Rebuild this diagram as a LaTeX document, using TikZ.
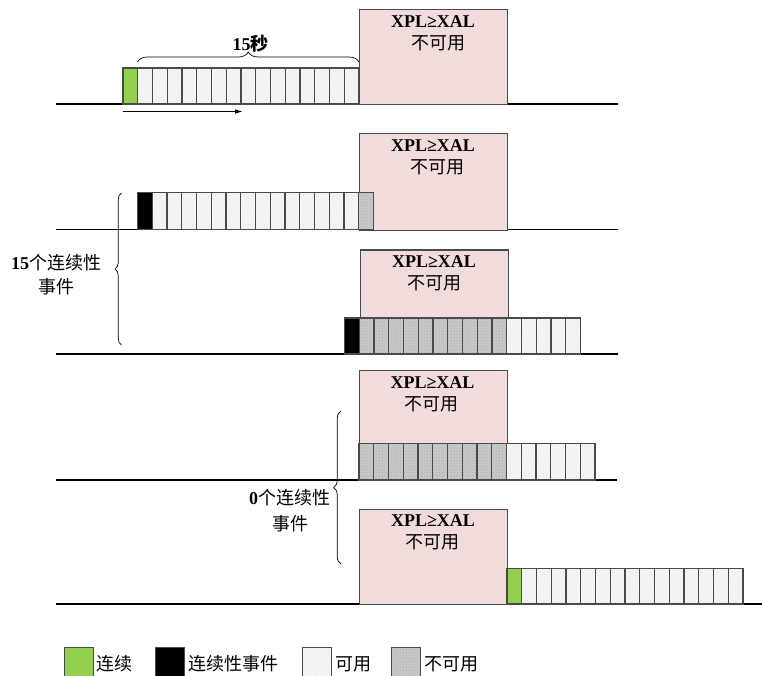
\documentclass[tikz,border=0pt]{standalone}
\usepackage{fontspec}
\setmainfont{Liberation Serif}
\newfontfamily\cjk{Noto Sans CJK SC}
\usetikzlibrary{patterns,decorations.pathreplacing,arrows.meta}

\definecolor{cellgray}{HTML}{4A4A4A}
\definecolor{alarmpink}{HTML}{F2DCDB}
\definecolor{startgreen}{HTML}{92D050}

% a run of #4 equal epochs starting at x=#1, between y=#2 (top) and y=#3 (bottom)
\newcommand\epochrun[5]{%
  \foreach \k in {1,...,#4}{%
    \path[#5] ({#1+(\k-1)*14.75},#2) rectangle ({#1+\k*14.75},#3);}}

\begin{document}
\begin{tikzpicture}[x=1pt,y=-1pt,
  font=\fontsize{18}{22}\selectfont,
  cellbase/.style={draw=cellgray, line width=1.2pt},
  okcell/.style={cellbase, preaction={fill=gray!5}, pattern=north east lines, pattern color=gray!18},
  badcell/.style={cellbase, preaction={fill=gray!42}, pattern=crosshatch dots, pattern color=gray!65},
  startcell/.style={cellbase, fill=startgreen},
  eventcell/.style={cellbase, fill=black},
  alarmbox/.style={draw=cellgray, fill=alarmpink, line width=1.2pt, inner sep=0pt, anchor=north west},
  axisline/.style={line width=1.3pt},
  bracket/.style={decorate, line width=0.7pt},
  xpl/.style={font=\fontsize{18}{22}\selectfont\bfseries, anchor=base, inner sep=0pt},
  cjklabel/.style={font=\fontsize{18}{22}\selectfont\cjk, anchor=base, inner sep=0pt},
  keybox/.style={minimum width=29pt, minimum height=30pt, anchor=north west, inner sep=0pt},
]
\useasboundingbox (0,0) rectangle (762,675);

% time axes
\coordinate (ax1a) at (56,104);  \coordinate (ax1b) at (618,104);
\coordinate (ax2a) at (56,229.5);\coordinate (ax2b) at (618,229.5);
\coordinate (ax3a) at (56,354);  \coordinate (ax3b) at (618,354);
\coordinate (ax4a) at (56,480);  \coordinate (ax4b) at (617,480);
\coordinate (ax5a) at (56,604);  \coordinate (ax5b) at (762,604);
\foreach \n in {1,...,5}{\draw[axisline] (ax\n a) -- (ax\n b);}

% XPL >= XAL outage blocks
\node[alarmbox, minimum width=148pt, minimum height=95pt]   (box1) at (359,9) {};
\node[alarmbox, minimum width=148pt, minimum height=96.5pt] (box2) at (359,133) {};
\node[alarmbox, minimum width=148pt, minimum height=68.7pt] (box3) at (360,249.3) {};
\node[alarmbox, minimum width=148pt, minimum height=73.5pt] (box4) at (359,370) {};
\node[alarmbox, minimum width=148pt, minimum height=95.5pt] (box5) at (359,508.5) {};

\node[xpl] (xpl1) at (433,27.3) {XPL≥XAL};   \node[cjklabel] (na1) at (438,49.3) {不可用};
\node[xpl] (xpl2) at (433,151.3) {XPL≥XAL};  \node[cjklabel] (na2) at (437,173.3) {不可用};
\node[xpl] (xpl3) at (434,267.6) {XPL≥XAL};  \node[cjklabel] (na3) at (434,289.6) {不可用};
\node[xpl] (xpl4) at (432.5,388.3) {XPL≥XAL};\node[cjklabel] (na4) at (431,410.3) {不可用};
\node[xpl] (xpl5) at (433,526.8) {XPL≥XAL};  \node[cjklabel] (na5) at (432,548.8) {不可用};

% row 1: continuity start, then 15 s of available epochs
\epochrun{123}{68}{104}{1}{startcell}
\epochrun{137.75}{68}{104}{15}{okcell}
% row 2
\epochrun{137.5}{192.5}{229.5}{1}{eventcell}
\epochrun{152.25}{192.5}{229.5}{14}{okcell}
\epochrun{358.75}{192.5}{229.5}{1}{badcell}
% row 3
\epochrun{344.5}{318}{354}{1}{eventcell}
\epochrun{359.25}{318}{354}{10}{badcell}
\epochrun{506.75}{318}{354}{5}{okcell}
% row 4
\epochrun{359}{443.5}{480}{10}{badcell}
\epochrun{506.5}{443.5}{480}{6}{okcell}
% row 5
\epochrun{507}{568.5}{604}{1}{startcell}
\epochrun{521.75}{568.5}{604}{15}{okcell}

% 15 s bracket and time arrow
\coordinate (br1a) at (137.5,62); \coordinate (br1b) at (359,62);
\draw[bracket, decoration={brace, amplitude=10pt}] (br1a) -- (br1b);
\node[anchor=base, inner sep=0pt, font=\fontsize{18}{22}\selectfont\bfseries] (secs) at (250.5,50) {15{\cjk 秒}};
\coordinate (arra) at (123,111.5); \coordinate (arrb) at (242,111.5);
\draw[line width=0.9pt, -{Triangle[length=7pt,width=4pt]}] (arra) -- (arrb);

% event-count brackets
\coordinate (br2a) at (121.5,345); \coordinate (br2b) at (121.5,193);
\draw[bracket, decoration={brace, amplitude=6.5pt}] (br2a) -- (br2b);
\node[cjklabel] (ev15) at (56,269.5) {{\rmfamily\bfseries 15}个连续性};
\node[cjklabel] (ev15b) at (56,293.5) {事件};

\coordinate (br3a) at (341,564); \coordinate (br3b) at (341,411);
\draw[bracket, decoration={brace, amplitude=7.5pt}] (br3a) -- (br3b);
\node[cjklabel] (ev0) at (289.5,504.5) {{\rmfamily\bfseries 0}个连续性};
\node[cjklabel] (ev0b) at (290,530) {事件};

% legend
\node[keybox, startcell] (kstart) at (63.5,646.5) {};
\node[cjklabel, anchor=base west] (tstart) at (96.5,670) {连续};
\node[keybox, eventcell] (kevent) at (154.5,646.5) {};
\node[cjklabel, anchor=base west] (tevent) at (188,670) {连续性事件};
\node[keybox, okcell] (kok) at (302,646.5) {};
\node[cjklabel, anchor=base west] (tok) at (335,670) {可用};
\node[keybox, badcell] (kbad) at (390.5,646.5) {};
\node[cjklabel, anchor=base west] (tbad) at (424.5,670) {不可用};
\end{tikzpicture}
\end{document}
